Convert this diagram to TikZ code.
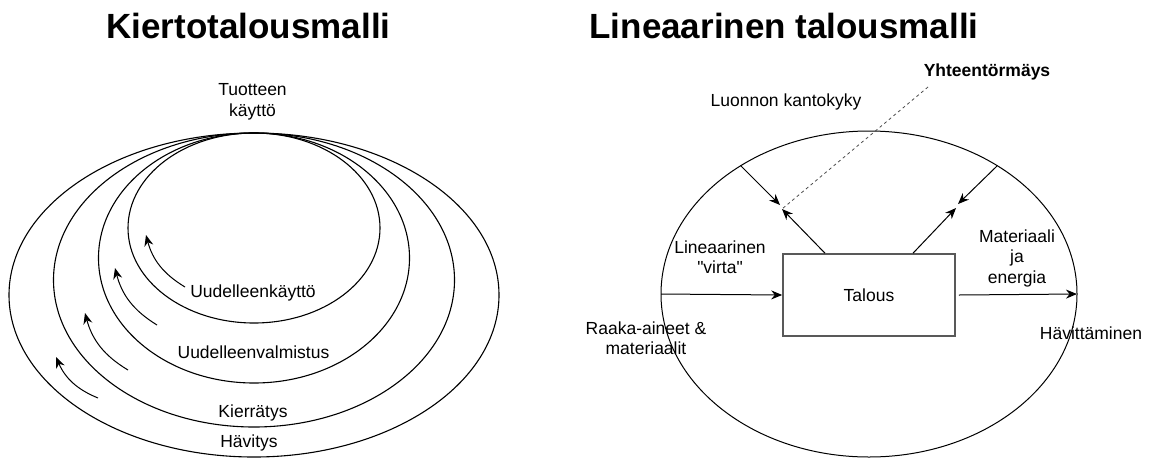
\documentclass[tikz,border=0pt]{standalone}
\usepackage{fontspec}
\setmainfont{Liberation Sans}[Ligatures=TeXOff]
\usetikzlibrary{calc, positioning}
\usetikzlibrary{arrows.meta}
\usetikzlibrary{shapes.geometric}

\tikzset{
  otsikko/.style={font=\fontsize{35}{42}\selectfont\bfseries, inner sep=0pt},
  teksti/.style={font=\fontsize{17.5}{20.5}\selectfont, align=center, inner sep=0pt},
  nuoli/.style={-{Stealth[length=11pt, width=9pt]}, line width=1pt},
  rengas/.style={line width=1.1pt},
  laatikko/.style={draw=black!65, line width=1.6pt, minimum width=172pt, minimum height=82pt,
    font=\fontsize{17.5}{20.5}\selectfont},
}

\begin{document}
\begin{tikzpicture}[x=1pt, y=-1pt]
\useasboundingbox (0,0) rectangle (1153,459);

\node[otsikko] (kiertootsikko) at (248.5,26) {Kiertotalousmalli};
\node[otsikko] (linotsikko) at (784,26) {Lineaarinen talousmalli};

\foreach \cy/\rx/\ry in {228/126/95, 258/155.5/125, 280/200.5/147, 295/245/162} {
  \draw[rengas] (254,\cy) ellipse [x radius=\rx pt, y radius=\ry pt];
}

\foreach \i/\sx/\sy/\tx/\ty in {1/185/287/146/235, 2/157/325/115/268, 3/128/370/85/313, 4/98/398/56/357} {
  \coordinate (alku\i) at (\sx,\sy);
  \coordinate (karki\i) at (\tx,\ty);
  \draw[nuoli] (alku\i) to[bend left=22] (karki\i);
}

\node[teksti] (kaytto) at (252.5,102) {Tuotteen\\käyttö};
\node[teksti] (uudkaytto) at (253,293) {Uudelleenkäyttö};
\node[teksti] (uudvalm) at (253.5,352) {Uudelleenvalmistus};
\node[teksti] (kierratys) at (253,413) {Kierrätys};
\node[teksti] (havitys) at (249,443) {Hävitys};

\node[ellipse, draw, line width=1pt, inner sep=0pt, outer sep=0pt,
  minimum width=416pt, minimum height=326pt] (luonto) at (869,294) {};
\node[laatikko] (talous) at (869,295) {Talous};

\coordinate (vasenkarki) at (780,205);
\coordinate (vasenkarki2) at (782,209);
\coordinate (oikeakarki) at (958,204);
\coordinate (oikeakarki2) at (956,208);
\coordinate (katkoalku) at (928,87);

\draw[nuoli] (luonto.west) -- (talous.west);
\draw[nuoli] ([xshift=3pt]talous.east) -- (luonto.east);
\draw[nuoli] (luonto.135) -- (vasenkarki);
\draw[nuoli] (luonto.45) -- (oikeakarki);
\draw[nuoli] ([xshift=-44pt]talous.north) -- (vasenkarki2);
\draw[nuoli] ([xshift=44pt]talous.north) -- (oikeakarki2);
\draw[dashed, line width=0.8pt, black!70] (katkoalku) -- (vasenkarki2);

\node[teksti] (kantokyky) at (786,102) {Luonnon kantokyky};
\node[teksti, font=\fontsize{17.5}{20.5}\selectfont\bfseries] (tormays) at (987,72) {Yhteentörmäys};
\node[teksti] (virta) at (720,257) {Lineaarinen\\"virta"};
\node[teksti] (raaka) at (646,338) {Raaka-aineet \&\\materiaalit};
\node[teksti] (materia) at (1017,258) {Materiaali\\ja\\energia};
\node[teksti] (havittaminen) at (1091,333) {Hävittäminen};
\end{tikzpicture}
\end{document}
